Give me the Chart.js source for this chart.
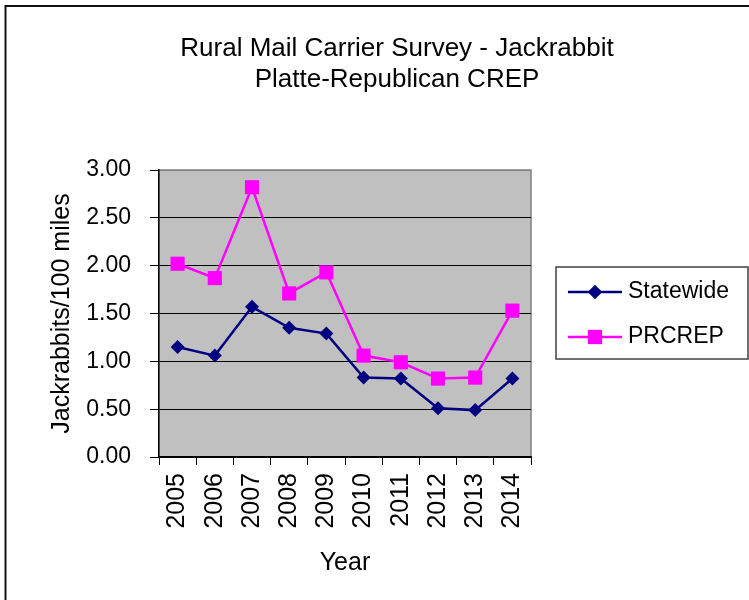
<!DOCTYPE html>
<html>
<head>
<meta charset="utf-8">
<script src="https://cdn.jsdelivr.net/npm/chart.js@4/dist/chart.umd.min.js"></script>
<style>
  html, body { margin: 0; padding: 0; background: #fff; }
  canvas { display: block; }
</style>
</head>
<body>
<canvas id="graphe" width="749" height="600"></canvas>
<script>
// Données
const years = ['2005', '2006', '2007', '2008', '2009', '2010', '2011', '2012', '2013', '2014'];
const statewide = [1.15, 1.06, 1.57, 1.35, 1.29, 0.83, 0.82, 0.51, 0.49, 0.82];
const prcrep = [2.02, 1.87, 2.82, 1.71, 1.93, 1.06, 0.99, 0.82, 0.83, 1.53];
const titleLines = ['Rural Mail Carrier Survey - Jackrabbit', 'Platte-Republican CREP'];
const yMin = 0, yMax = 3, yStep = 0.5;

const FONT = "'Liberation Sans', Arial, sans-serif";
const navy = '#000080';
const magenta = '#FF00FF';

// fond gris, cadre, titre et légende
const decor = {
    id: 'decor',
    beforeDraw(chart) {
        const ctx = chart.ctx;
        const a = chart.chartArea;
        ctx.save();
        ctx.fillStyle = '#C0C0C0';
        ctx.fillRect(a.left, a.top, a.right - a.left, a.bottom - a.top);
        ctx.strokeStyle = '#808080';
        ctx.lineWidth = 1.5;
        ctx.strokeRect(a.left, a.top, a.right - a.left, a.bottom - a.top);
        ctx.restore();
    },
    afterDraw(chart) {
        const ctx = chart.ctx;
        ctx.save();
        // cadre de la page
        ctx.strokeStyle = '#111';
        ctx.lineWidth = 2;
        ctx.beginPath();
        ctx.moveTo(749, 6);
        ctx.lineTo(5.5, 6);
        ctx.lineTo(5.5, 600);
        ctx.stroke();

        // titre
        ctx.fillStyle = '#000';
        ctx.font = '26px ' + FONT;
        ctx.textAlign = 'center';
        ctx.textBaseline = 'middle';
        ctx.fillText(titleLines[0], 397, 49);
        ctx.fillText(titleLines[1], 397, 80);

        // légende
        ctx.strokeStyle = '#404040';
        ctx.lineWidth = 1.5;
        ctx.strokeRect(556, 267, 192, 92);
        const items = [
            {label: 'Statewide', color: navy, style: 'rectRot', r: 7, y: 292},
            {label: 'PRCREP', color: magenta, style: 'rect', r: 10, y: 337}
        ];
        items.forEach(function(it) {
            ctx.strokeStyle = it.color;
            ctx.lineWidth = 2.5;
            ctx.beginPath();
            ctx.moveTo(568, it.y);
            ctx.lineTo(622, it.y);
            ctx.stroke();
            ctx.fillStyle = it.color;
            Chart.helpers.drawPoint(ctx, {pointStyle: it.style, radius: it.r, borderWidth: 0, rotation: 0}, 595, it.y);
            ctx.fill();
            ctx.fillStyle = '#000';
            ctx.font = '23px ' + FONT;
            ctx.textAlign = 'left';
            ctx.textBaseline = 'middle';
            ctx.fillText(it.label, 628, it.y);
        });
        ctx.restore();
    }
};

const data = {
    labels: years,
    datasets: [{
        label: 'Statewide',
        data: statewide,
        borderColor: navy,
        backgroundColor: navy,
        borderWidth: 2.5,
        pointStyle: 'rectRot',
        pointRadius: 7,
        pointBorderWidth: 0,
        order: 1
    }, {
        label: 'PRCREP',
        data: prcrep,
        borderColor: magenta,
        backgroundColor: magenta,
        borderWidth: 2.5,
        pointStyle: 'rect',
        pointRadius: 10,
        pointBorderWidth: 0,
        order: 0
    }]
};

const config = {
    type: 'line',
    data: data,
    options: {
        responsive: false,
        animation: false,
        devicePixelRatio: 1,
        layout: {
            padding: {top: 170, left: 0, right: 218, bottom: 0}
        },
        plugins: {
            legend: {display: false},
            title: {display: false},
            tooltip: {enabled: false}
        },
        scales: {
            x: {
                offset: true,
                grid: {
                    offset: true,
                    drawOnChartArea: false,
                    drawTicks: true,
                    tickLength: 8,
                    tickColor: '#000',
                    tickWidth: 1
                },
                border: {color: '#000', width: 1.5},
                ticks: {
                    color: '#000',
                    font: {family: FONT, size: 25},
                    padding: 8,
                    minRotation: 90,
                    maxRotation: 90,
                    autoSkip: false
                },
                title: {
                    display: true,
                    text: 'Year',
                    color: '#000',
                    font: {family: FONT, size: 25},
                    padding: {top: 0, bottom: 22}
                },
                afterFit: function(scale) { scale.height = 143; }
            },
            y: {
                min: yMin,
                max: yMax,
                grid: {
                    color: function(c) { return c.tick && c.tick.value === yMax ? '#808080' : '#000'; },
                    lineWidth: 1,
                    tickLength: 9,
                    tickColor: '#000'
                },
                border: {color: '#000', width: 1.5},
                ticks: {
                    stepSize: yStep,
                    color: '#000',
                    padding: 19,
                    font: {family: FONT, size: 23},
                    callback: function(v) { return Number(v).toFixed(2); }
                },
                title: {
                    display: true,
                    text: 'Jackrabbits/100 miles',
                    color: '#000',
                    font: {family: FONT, size: 25},
                    padding: {top: 47, bottom: 0}
                },
                afterFit: function(scale) { scale.width = 159; }
            }
        }
    },
    plugins: [decor]
};

const graphe = new Chart(document.getElementById('graphe'), config);
</script>
</body>
</html>
